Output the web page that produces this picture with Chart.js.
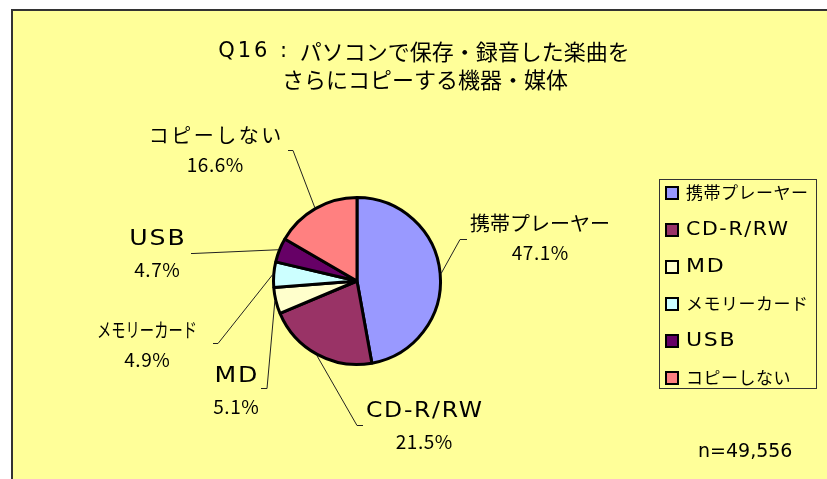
<!DOCTYPE html>
<html>

<head>
  <title>Q16</title>
  <script src="https://cdn.jsdelivr.net/npm/chart.js@4.4.0/dist/chart.umd.min.js"></script>
  <style>
    body { margin: 0; background: #fff; }
    canvas { display: block; }
  </style>
</head>

<body>
  <canvas id="pieChart" width="827" height="479"></canvas>
  <script>
    const categories = ['携帯プレーヤー', 'CD-R/RW', 'MD', 'メモリーカード', 'USB', 'コピーしない'];
    const shares = [47.1, 21.5, 5.1, 4.9, 4.7, 16.6];
    const sliceColors = ['#9999FF', '#993366', '#FFFFCC', '#CCFFFF', '#660066', '#FF8080'];
    const titlePrefix = 'Q16 : ';
    const titleLines = ['パソコンで保存・録音した楽曲を', 'さらにコピーする機器・媒体'];
    const sampleNote = 'n=49,556';

    const FONT = '"Noto Sans CJK JP", sans-serif';
    const LATIN = '"DejaVu Sans", sans-serif';

    // callout layout: text centre (tx,ty), elbow of leader (ex,ey), end of short tick (hx),
    // latin = wide latin face, mw = max text width
    const calloutPos = [
      { tx: 540, ty: 223, ex: 460, ey: 239, hx: 467 },
      { tx: 424, ty: 412, ex: 357, ey: 425, hx: 363, latin: true, sx: 1.12 },
      { tx: 236, ty: 377, ex: 267, ey: 388, hx: 261, latin: true, sx: 1.2 },
      { tx: 147, ty: 330, ex: 218, ey: 343, hx: 213, mw: 100 },
      { tx: 157, ty: 240, ex: 193, ey: 253, hx: 191, latin: true, sx: 1.2 },
      { tx: 215, ty: 135, ex: 293, ey: 150, hx: 288, sp: 2.5 }
    ];

    // draws text; sp = letter spacing, sx = horizontal stretch, mw = max width
    function drawText(c, s, x, y, font, opts) {
      const o = opts || {};
      const sp = o.sp || 0, sx = o.sx || 1;
      c.save();
      c.font = font;
      c.letterSpacing = sp + 'px';
      c.textAlign = 'left';
      c.textBaseline = 'middle';
      let w = (c.measureText(s).width - sp) * sx;
      if (o.mw && w > o.mw) w = o.mw;
      const left = o.align === 'center' ? x - w / 2 : x;
      c.translate(left, y);
      c.scale(sx, 1);
      if (o.mw) c.fillText(s, 0, 0, o.mw / sx);
      else c.fillText(s, 0, 0);
      c.restore();
      return w;
    }

    const decor = {
      id: 'decor',
      beforeDraw(chart) {
        const c = chart.ctx;
        c.save();
        c.fillStyle = '#fff';
        c.fillRect(0, 0, chart.width, chart.height);
        c.fillStyle = '#FFFF99';
        c.fillRect(12, 10, chart.width, chart.height);
        c.strokeStyle = '#333';
        c.lineWidth = 2;
        c.beginPath();
        c.moveTo(12, chart.height);
        c.lineTo(12, 10);
        c.lineTo(chart.width, 10);
        c.stroke();

        // title; the latin prefix is set in a wider face like the original
        c.fillStyle = '#000';
        const pf = '21px ' + LATIN, tf = '22px ' + FONT;
        c.font = pf;
        c.letterSpacing = '3px';
        const pw = c.measureText(titlePrefix).width;
        c.letterSpacing = '0px';
        c.font = tf;
        const rw = c.measureText(titleLines[0]).width;
        const start = 424 - (pw + rw) / 2;
        drawText(c, titlePrefix, start, 52, pf, { sp: 3 });
        drawText(c, titleLines[0], start + pw, 52, tf);
        drawText(c, titleLines[1], 425, 80, tf, { align: 'center' });
        c.restore();
      },
      afterDatasetsDraw(chart) {
        const c = chart.ctx;
        const arcs = chart.getDatasetMeta(0).data;
        c.save();
        arcs.forEach((arc, i) => {
          const p = calloutPos[i];
          const mid = (arc.startAngle + arc.endAngle) / 2;
          const r = arc.outerRadius + 1;
          c.strokeStyle = '#222';
          c.lineWidth = 1;
          c.beginPath();
          c.moveTo(arc.x + Math.cos(mid) * r, arc.y + Math.sin(mid) * r);
          c.lineTo(p.ex, p.ey + 0.5);
          c.lineTo(p.hx, p.ey + 0.5);
          c.stroke();

          c.fillStyle = '#000';
          if (p.latin) {
            drawText(c, categories[i], p.tx, p.ty, '21px ' + LATIN, { sp: 1.5, sx: p.sx, align: 'center' });
          } else {
            drawText(c, categories[i], p.tx, p.ty, '20px ' + FONT, { sp: p.sp, mw: p.mw, align: 'center' });
          }
          drawText(c, shares[i].toFixed(1) + '%', p.tx, p.ty + 30, '19px ' + FONT, { sp: 0.5, align: 'center' });
        });

        // legend
        c.strokeStyle = '#333';
        c.lineWidth = 1;
        c.strokeRect(659.5, 179.5, 157, 209);
        categories.forEach((name, i) => {
          const y = 193 + i * 37;
          c.fillStyle = sliceColors[i];
          c.fillRect(666, y - 6, 12, 12);
          c.strokeStyle = '#000';
          c.lineWidth = 2;
          c.strokeRect(666, y - 6, 12, 12);
          c.fillStyle = '#000';
          if (calloutPos[i].latin) {
            drawText(c, name, 686, y, '19px ' + LATIN, { sp: 1.5, sx: calloutPos[i].sx - 0.04 });
          } else {
            drawText(c, name, 686, y, '17px ' + FONT, { sp: 0.5 });
          }
        });

        drawText(c, sampleNote, 698, 452, '19px ' + LATIN);
        c.restore();
      }
    };

    const ctx = document.getElementById('pieChart').getContext('2d');
    const pieChart = new Chart(ctx, {
      type: 'pie',
      data: {
        labels: categories,
        datasets: [{
          data: shares,
          backgroundColor: sliceColors,
          borderColor: '#000',
          borderWidth: 3
        }]
      },
      options: {
        responsive: false,
        animation: false,
        events: [],
        layout: { padding: { left: 272, right: 385, top: 196, bottom: 113 } },
        plugins: {
          legend: { display: false },
          title: { display: false },
          tooltip: { enabled: false }
        }
      },
      plugins: [decor]
    });
  </script>
</body>

</html>
